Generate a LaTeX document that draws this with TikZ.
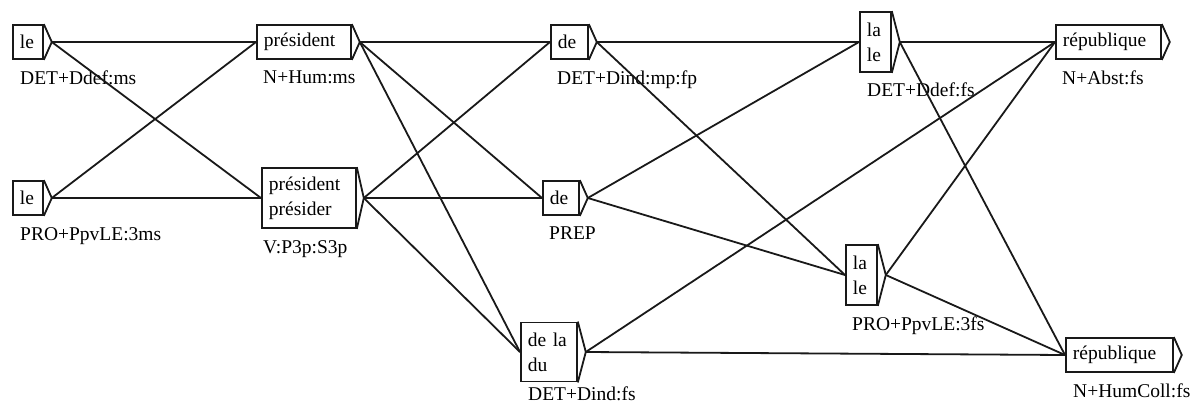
\documentclass[tikz,border=0pt]{standalone}
\usepackage{fontspec}
\newfontfamily\wfont{Liberation Serif}
\newlength{\du}
\setlength{\du}{1pt}
\definecolor{dialinecolor}{rgb}{0.1,0.1,0.1}
\tikzset{
  wbox/.style={draw=dialinecolor, line width=1.8\du, rectangle, anchor=west,
    align=left, inner xsep=7\du, inner ysep=0pt, minimum height=34\du,
    font=\wfont\fontsize{19.5}{25}\selectfont},
  wtag/.style={anchor=north west, inner sep=0pt, font=\wfont\fontsize{19.5}{25}\selectfont},
  wtip/.style={draw=dialinecolor, line width=1.8\du, line join=miter},
  wedge/.style={draw=dialinecolor, line width=1.8\du}
}

\begin{document}
\begin{tikzpicture}[x=\du, y=-\du]
\useasboundingbox (0,0) rectangle (1191,407);
% column 1
\node[wbox, text width=16\du] (le1) at (12,42) {le};
\coordinate (le1t) at ([xshift=8\du]le1.east);
\draw[wtip] (le1.north east) -- (le1t) -- (le1.south east);
\node[wtag] (le1x) at ([xshift=8\du,yshift=-11\du]le1.south west) {DET+Ddef:ms};
\node[wbox, text width=16\du] (le2) at (12,198) {le};
\coordinate (le2t) at ([xshift=8\du]le2.east);
\draw[wtip] (le2.north east) -- (le2t) -- (le2.south east);
\node[wtag] (le2x) at ([xshift=8\du,yshift=-11\du]le2.south west) {PRO+PpvLE:3ms};
% column 2
\node[wbox, text width=80\du] (pres1) at (256,42) {président};
\coordinate (pres1t) at ([xshift=8\du]pres1.east);
\draw[wtip] (pres1.north east) -- (pres1t) -- (pres1.south east);
\node[wtag] (pres1x) at ([xshift=7\du,yshift=-11\du]pres1.south west) {N+Hum:ms};
\node[wbox, text width=80\du, minimum height=60\du] (pres2) at (261,198) {président\\présider};
\coordinate (pres2t) at ([xshift=7\du]pres2.east);
\draw[wtip] (pres2.north east) -- (pres2t) -- (pres2.south east);
\node[wtag] (pres2x) at ([xshift=2\du,yshift=-11\du]pres2.south west) {V:P3p:S3p};
% column 3
\node[wbox, text width=23\du] (de1) at (550,42) {de};
\coordinate (de1t) at ([xshift=8\du]de1.east);
\draw[wtip] (de1.north east) -- (de1t) -- (de1.south east);
\node[wtag] (de1x) at ([xshift=7\du,yshift=-11\du]de1.south west) {DET+Dind:mp:fp};
\node[wbox, text width=22\du] (de2) at (542,198) {de};
\coordinate (de2t) at ([xshift=8\du]de2.east);
\draw[wtip] (de2.north east) -- (de2t) -- (de2.south east);
\node[wtag] (de2x) at ([xshift=7\du,yshift=-11\du]de2.south west) {PREP};
\node[wbox, text width=42\du, minimum height=59\du] (du) at (520,352) {de la\\du};
\coordinate (dut) at ([xshift=8\du]du.east);
\draw[wtip] (du.north east) -- (dut) -- (du.south east);
\node[wtag] (dux) at ([xshift=8\du,yshift=-4\du]du.south west) {DET+Dind:fs};
% column 4
\node[wbox, text width=17\du, minimum height=60\du] (la1) at (859,42) {la\\le};
\coordinate (la1t) at ([xshift=8\du]la1.east);
\draw[wtip] (la1.north east) -- (la1t) -- (la1.south east);
\node[wtag] (la1x) at ([xshift=8\du,yshift=-10\du]la1.south west) {DET+Ddef:fs};
\node[wbox, text width=17\du, minimum height=60\du] (la2) at (845,275) {la\\le};
\coordinate (la2t) at ([xshift=8\du]la2.east);
\draw[wtip] (la2.north east) -- (la2t) -- (la2.south east);
\node[wtag] (la2x) at ([xshift=7\du,yshift=-11\du]la2.south west) {PRO+PpvLE:3fs};
% column 5
\node[wbox, text width=91\du] (rep1) at (1055,42) {république};
\coordinate (rep1t) at ([xshift=8\du]rep1.east);
\draw[wtip] (rep1.north east) -- (rep1t) -- (rep1.south east);
\node[wtag] (rep1x) at ([xshift=7\du,yshift=-11\du]rep1.south west) {N+Abst:fs};
\node[wbox, text width=93\du] (rep2) at (1065,355) {république};
\coordinate (rep2t) at ([xshift=8\du]rep2.east);
\draw[wtip] (rep2.north east) -- (rep2t) -- (rep2.south east);
\node[wtag] (rep2x) at ([xshift=8\du,yshift=-11\du]rep2.south west) {N+HumColl:fs};
% transitions
\draw[wedge] (le1t) -- (pres1.west);
\draw[wedge] (le1t) -- (pres2.west);
\draw[wedge] (le2t) -- (pres1.west);
\draw[wedge] (le2t) -- (pres2.west);
\draw[wedge] (pres1t) -- (de1.west);
\draw[wedge] (pres1t) -- (de2.west);
\draw[wedge] (pres1t) -- (du.west);
\draw[wedge] (pres2t) -- (de1.west);
\draw[wedge] (pres2t) -- (de2.west);
\draw[wedge] (pres2t) -- (du.west);
\draw[wedge] (de1t) -- (la1.west);
\draw[wedge] (de1t) -- (la2.west);
\draw[wedge] (de2t) -- (la1.west);
\draw[wedge] (de2t) -- (la2.west);
\draw[wedge] (dut) -- (rep1.west);
\draw[wedge] (dut) -- (rep2.west);
\draw[wedge] (la1t) -- (rep1.west);
\draw[wedge] (la1t) -- (rep2.west);
\draw[wedge] (la2t) -- (rep1.west);
\draw[wedge] (la2t) -- (rep2.west);
\end{tikzpicture}
\end{document}
